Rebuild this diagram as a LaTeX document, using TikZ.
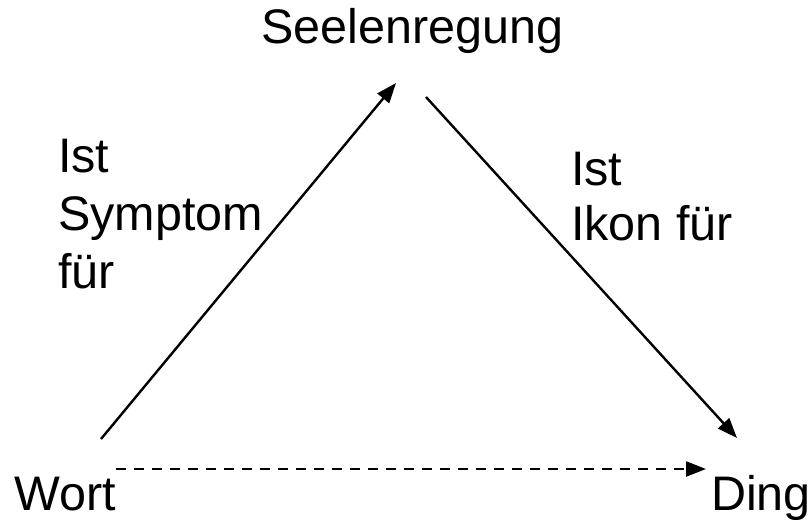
\documentclass[tikz,border=0pt]{standalone}
\usepackage{fontspec}
\setmainfont{Liberation Sans}
\usetikzlibrary{arrows.meta}
\begin{document}
\begin{tikzpicture}[x=1pt,y=-1pt,
  lbl/.style={inner sep=0pt,anchor=base west,font=\fontsize{48.5}{58}\selectfont},
  conn/.style={line width=2.4pt,-{Triangle[length=20pt,width=15pt]}},
  dconn/.style={conn,dash pattern=on 10pt off 8pt}]
\useasboundingbox (0,0) rectangle (810,519);
\node[lbl] (seele) at (261,44) {Seelenregung};
\node[lbl] (wort) at (14,510) {Wort};
\node[lbl] (ding) at (711,510) {Ding};
\node[lbl] (l1) at (58,172) {Ist};
\node[lbl] (l2) at (58,230) {Symptom};
\node[lbl] (l3) at (58,288) {für};
\node[lbl] (r1) at (571,185) {Ist};
\node[lbl] (r2) at (571,240) {Ikon für};
\coordinate (a1) at (101,439);
\coordinate (a2) at (396,83);
\coordinate (b1) at (426,97);
\coordinate (b2) at (737,438);
\coordinate (c1) at (116,469);
\coordinate (c2) at (706,469);
\draw[conn] (a1) -- (a2);
\draw[conn] (b1) -- (b2);
\draw[dconn] (c1) -- (c2);
\end{tikzpicture}
\end{document}
